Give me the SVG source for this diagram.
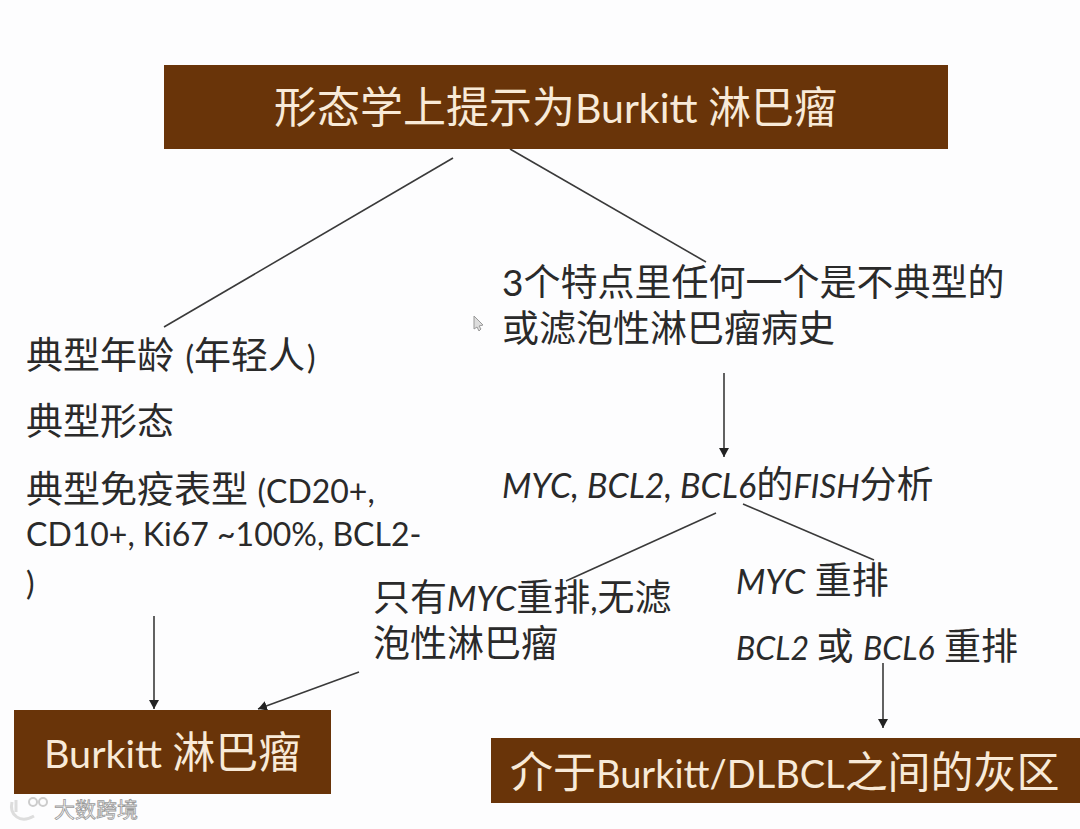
<svg xmlns="http://www.w3.org/2000/svg" width="1080" height="829" viewBox="0 0 1080 829">
<style>
text{font-family:"Lato","Noto Sans CJK SC",sans-serif;font-size:37px;fill:#2a2a2a}
.w{fill:#f8ead8;font-size:43px}
.t{font-size:32px}
.i{font-style:italic;font-size:34px}
.b{font-size:41px}
.box{fill:#693409}
.l{stroke:#3a3a3a;stroke-width:1.6;fill:none}
.a{marker-end:url(#arr)}
</style>
<defs><marker id="arr" markerUnits="userSpaceOnUse" markerWidth="11" markerHeight="11" refX="9" refY="5" orient="auto"><path d="M0 0L9 5L0 10Z" fill="#222"/></marker></defs>
<rect width="1080" height="829" fill="#fdfdfe"/>
<g id="connectors">
<path class="l" d="M453 158L164 327"/>
<path class="l" d="M510 149L706 262"/>
<path class="l a" d="M724 373V457"/>
<path class="l" d="M716 513L566 581"/>
<path class="l" d="M743 504L874 560"/>
<path class="l a" d="M154 616V709"/>
<path class="l a" d="M359 672L258 709"/>
<path class="l a" d="M883 663V728"/>
</g>
<g id="top"><rect class="box" x="164" y="65" width="784" height="84"/><text class="w" x="274" y="123">形态学上提示为<tspan class="b">Burkitt </tspan>淋巴瘤</text></g>
<g id="left">
<text x="26" y="369">典型年龄 <tspan class="t" dx="2">(</tspan>年轻人<tspan class="t" dx="2">)</tspan></text>
<text x="26" y="435">典型形态</text>
<text x="26" y="503">典型免疫表型 <tspan class="t">(CD20+,</tspan></text>
<text x="26" y="546"><tspan class="t">CD10+, Ki67 ~100%, BCL2-</tspan></text>
<text x="26" y="595"><tspan class="t">)</tspan></text>
</g>
<g id="right">
<text x="502" y="296"><tspan style="font-feature-settings:'lnum'">3</tspan>个特点里任何一个是不典型的</text>
<text x="502" y="342">或滤泡性淋巴瘤病史</text>
</g>
<g id="fish"><text x="502" y="498"><tspan class="i">MYC, BCL2, BCL6</tspan>的<tspan class="i" style="font-size:33px">FISH</tspan>分析</text></g>
<g id="onlymyc">
<text x="373" y="611">只有<tspan class="i">MYC</tspan>重排<tspan class="t">,</tspan>无滤</text>
<text x="373" y="657">泡性淋巴瘤</text>
</g>
<g id="myc"><text x="736" y="594"><tspan class="i">MYC</tspan> 重排</text></g>
<g id="bcl"><text x="736" y="660"><tspan class="i" style="font-size:32px">BCL2</tspan><tspan dx="-2"> 或 </tspan><tspan class="i" style="font-size:32px">BCL6</tspan> 重排</text></g>
<g id="burkitt"><rect class="box" x="14" y="710" width="317" height="84"/><text class="w" x="44" y="768"><tspan class="b" style="font-size:39.5px">Burkitt </tspan>淋巴瘤</text></g>
<g id="gray"><rect class="box" x="491" y="738" width="589" height="65"/><text class="w" x="510" y="788">介于<tspan class="b" style="font-size:38px">Burkitt/DLBCL</tspan>之间的灰区</text></g>
<g id="watermark"><text x="54" y="817" style="font-size:21px;fill:#fff;stroke:#999;stroke-width:.8">大数跨境</text>
<path d="M16 800V812M12 802C9 815 20 824 34 816" fill="none" stroke="#ddd" stroke-width="3"/><circle cx="33" cy="802" r="4" fill="none" stroke="#ccc" stroke-width="2"/><circle cx="43" cy="802" r="4" fill="none" stroke="#ccc" stroke-width="2"/></g>
<path id="cursor" d="M474 316V329L477 327L479 331L481 329L479 326L483 325Z" fill="#ddd" stroke="#999"/>
</svg>
